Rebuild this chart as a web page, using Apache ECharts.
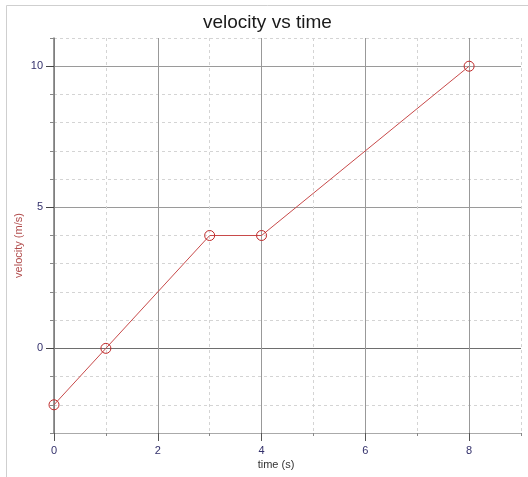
<!DOCTYPE html>
<html><head><meta charset="utf-8">
<script src="https://cdn.jsdelivr.net/npm/echarts@6/dist/echarts.min.js"></script>
<style>html,body{margin:0;padding:0;background:#fff}#c{width:528px;height:477px}</style>
</head><body><div id="c"></div>
<script>
const timeS = [0, 1, 3, 4, 8];
const velocity = [-2, 0, 4, 4, 10];
const xMajorTicks = [0, 2, 4, 6, 8];
const yMajorTicks = [0, 5, 10];

const font = 'Liberation Sans, Arial, sans-serif';
const labelColor = '#33306b';
const chart = echarts.init(document.getElementById('c'));
chart.setOption({
  animation: false,
  backgroundColor: '#fff',
  title: { text: 'velocity vs time', left: 198, top: 8,
    textStyle: { fontFamily: font, fontSize: 19, fontWeight: 'normal', color: '#1a1a1a' } },
  graphic: [{ type: 'rect', shape: { x: 6.5, y: 5.5, width: 540, height: 490 },
    style: { fill: 'none', stroke: '#cfcfcf', lineWidth: 1 }, z: -1 }],
  grid: { left: 54, right: 7, top: 38, bottom: 44 },
  xAxis: [
    { type: 'value', min: 0, max: 9, interval: 1, position: 'bottom',
      axisLine: { show: true, onZero: false, lineStyle: { color: '#aaa', width: 1 } },
      axisTick: { show: true, length: 3, lineStyle: { color: '#888' } },
      axisLabel: { show: false },
      splitLine: { show: true, lineStyle: { color: '#d4d4d4', type: [3, 3], width: 1 } },
      name: 'time (s)', nameLocation: 'middle', nameGap: 26,
      nameTextStyle: { fontFamily: font, fontSize: 11, color: '#333', padding: [0, 23, 0, 0] } },
    { type: 'value', min: 0, max: 9, position: 'bottom', offset: 0,
      axisLine: { show: false, onZero: false },
      axisTick: { show: true, length: 8, customValues: xMajorTicks, lineStyle: { color: '#555' } },
      axisLabel: { show: true, customValues: xMajorTicks, margin: 12,
        fontFamily: font, fontSize: 11, color: labelColor },
      splitLine: { show: true, lineStyle: { color: '#999', type: 'solid', width: 1 } } }
  ],
  yAxis: [
    { type: 'value', min: -3, max: 11, interval: 1, position: 'left',
      axisLine: { show: true, onZero: false, lineStyle: { color: '#777', width: 1.5 } },
      axisTick: { show: true, length: 4, lineStyle: { color: '#888' } },
      axisLabel: { show: false },
      splitLine: { show: true, lineStyle: { color: '#d4d4d4', type: [3, 3], width: 1 } },
      name: 'velocity (m/s)', nameLocation: 'middle', nameGap: 30,
      nameTextStyle: { fontFamily: font, fontSize: 11, color: '#b04a4a', padding: [0, 20, 0, 0] } },
    { type: 'value', min: -3, max: 11, position: 'left', offset: 0,
      axisLine: { show: false, onZero: false },
      axisTick: { show: true, length: 8, customValues: yMajorTicks, lineStyle: { color: '#444' } },
      axisLabel: { show: true, customValues: yMajorTicks, margin: 11,
        fontFamily: font, fontSize: 11, color: labelColor },
      splitLine: { show: true, lineStyle: { color: ['#6e6e6e', '#9a9a9a', '#9a9a9a'], type: 'solid', width: 1 } } }
  ],
  series: [{
    type: 'line', xAxisIndex: 0, yAxisIndex: 0,
    data: timeS.map((t, i) => [t, velocity[i]]),
    symbol: 'circle', symbolSize: 10, showSymbol: true,
    lineStyle: { color: '#c84a4a', width: 1 },
    itemStyle: { color: 'rgba(0,0,0,0)', borderColor: '#c02a2a', borderWidth: 1 },
    z: 5
  }]
});
</script></body></html>
